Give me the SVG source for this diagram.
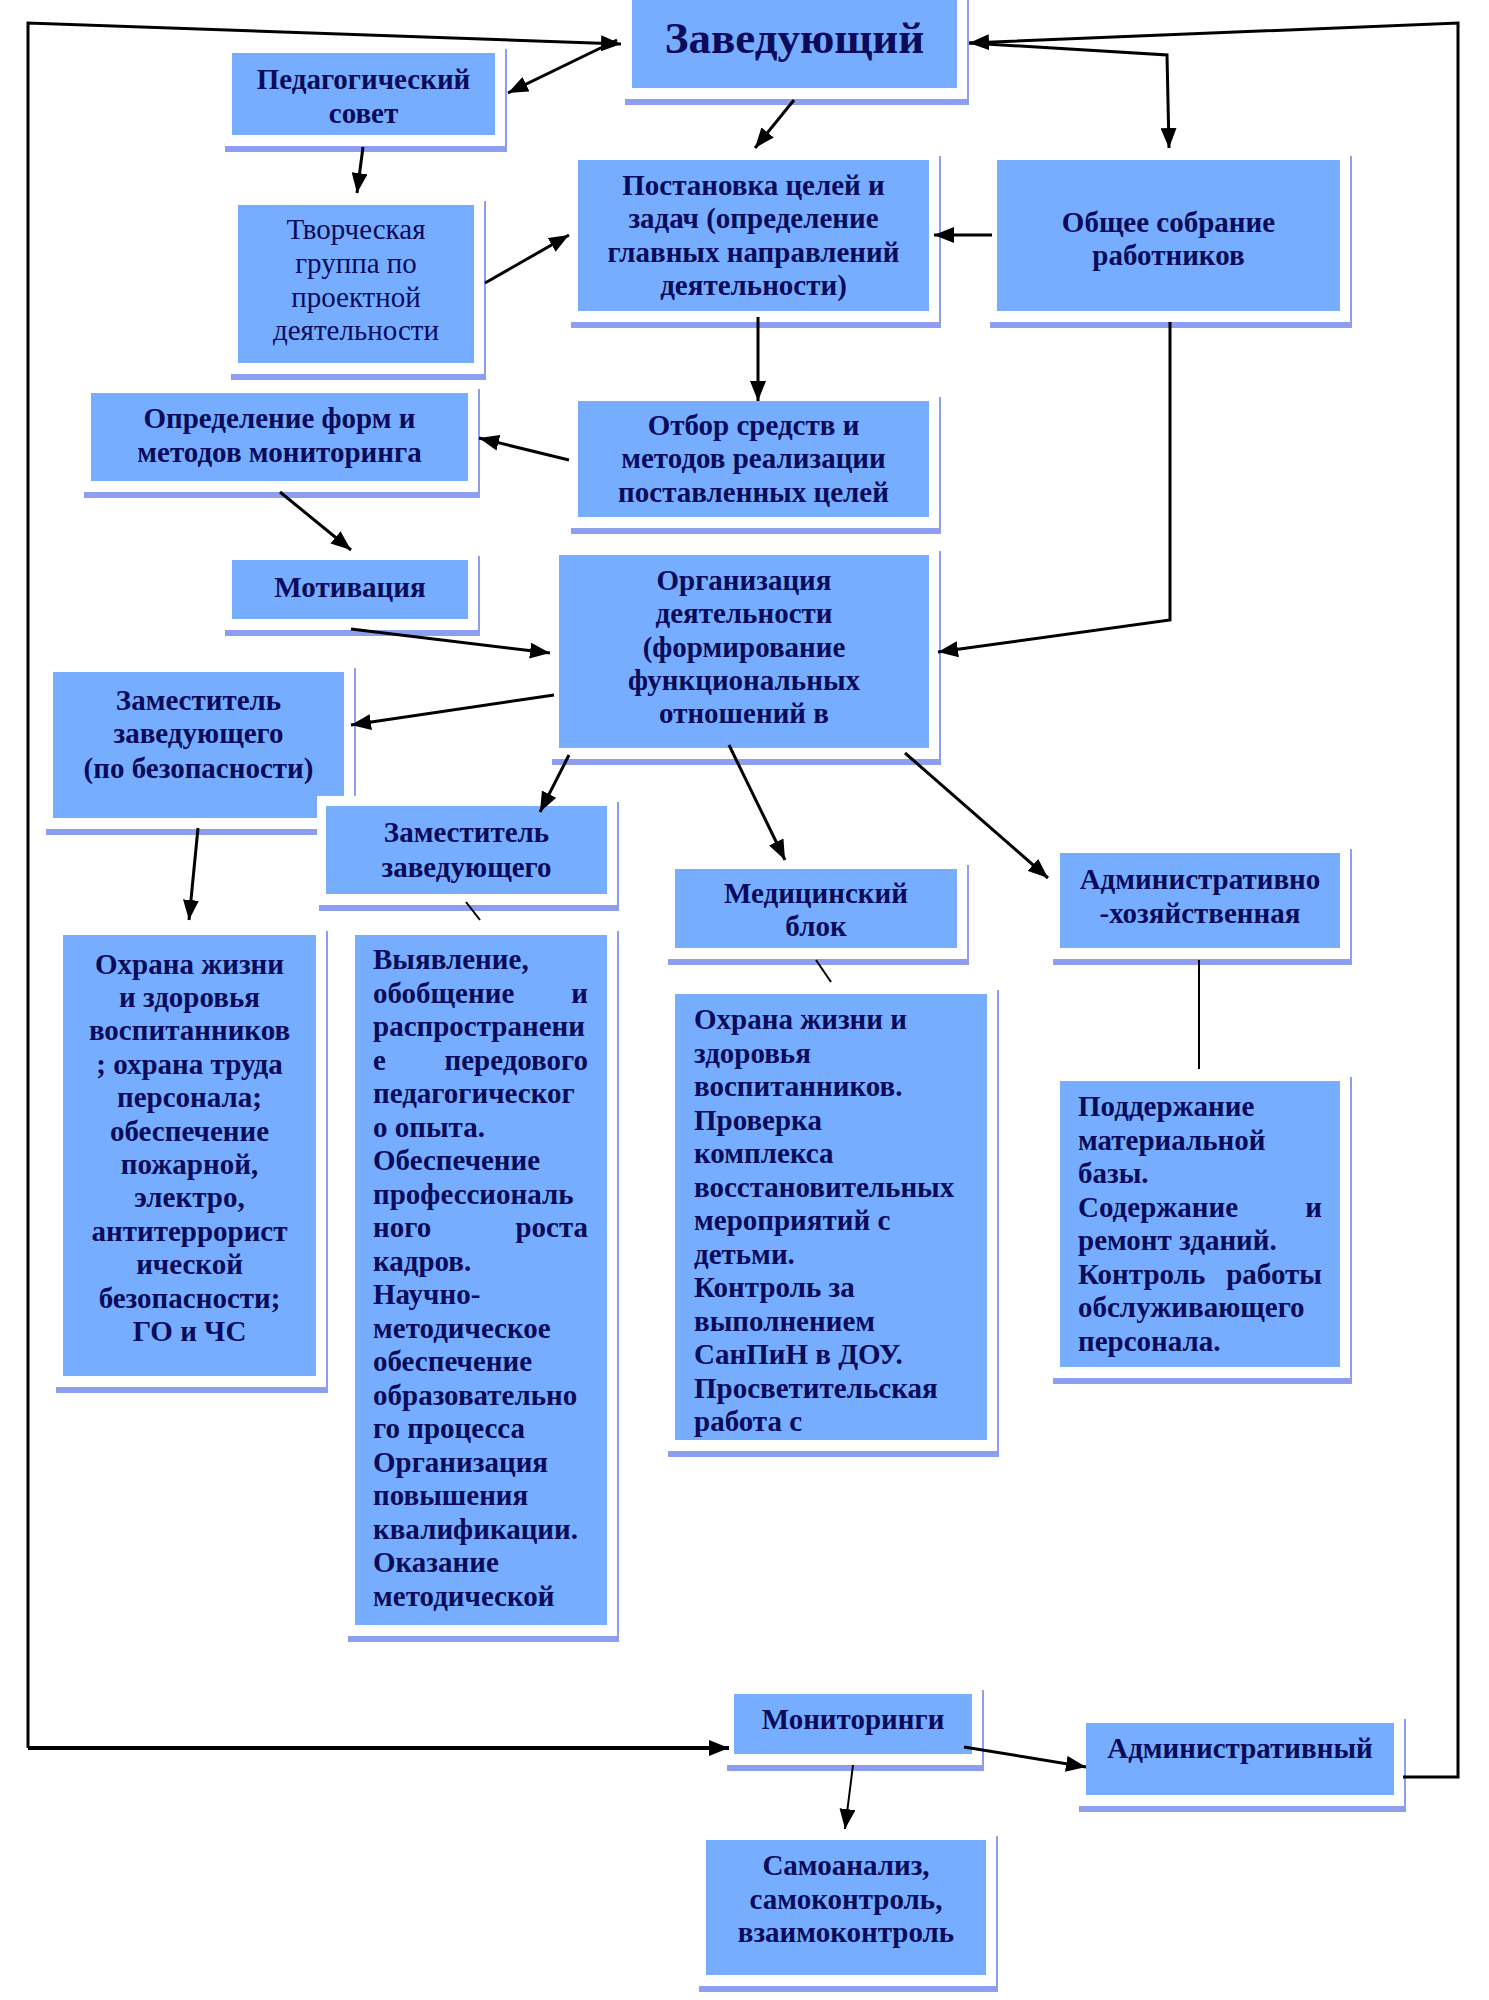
<svg xmlns="http://www.w3.org/2000/svg" width="1489" height="2000" viewBox="0 0 1489 2000">
<style>
.frame{fill:#ffffff}
.shadow{fill:#8d9df0}
.box{fill:#76adfe}
.t{font-family:"Liberation Serif","Times New Roman",serif;font-weight:bold;font-size:29px;fill:#0b0b5a}
.c{text-anchor:middle}
.e{text-anchor:end}
.r{font-weight:normal}
.big{font-size:45px}
.ln{stroke:#000;stroke-width:3;fill:none}
.thin{stroke-width:2}
.thick{stroke-width:4}
</style>
<defs>
<marker id="arr" markerWidth="20" markerHeight="16" refX="20" refY="8" orient="auto" markerUnits="userSpaceOnUse"><path d="M0,0 L20,8 L0,16 z" fill="#000"/></marker>
<clipPath id="clipMed"><rect x="675" y="994" width="312" height="446"/></clipPath>
<clipPath id="clipOrg"><rect x="559" y="555" width="370" height="193"/></clipPath>
</defs>
<rect x="0" y="0" width="1489" height="2000" fill="#ffffff"/>

<g id="zaveduyushchiy">
<rect class="shadow" x="625" y="-4" width="344" height="109"/>
<rect class="frame" x="623" y="-10" width="344" height="109"/>
<rect class="box" x="632" y="0" width="325" height="88"/>
<text class="t c big" x="794.5" y="53">Заведующий</text>
</g>

<g id="ped-sovet">
<rect class="shadow" x="225" y="49" width="282" height="103"/>
<rect class="frame" x="223" y="43" width="282" height="103"/>
<rect class="box" x="232" y="53" width="263" height="82"/>
<text class="t c" x="363.5" y="89">Педагогический</text>
<text class="t c" x="363.5" y="123">совет</text>
</g>

<g id="tvorcheskaya-gruppa">
<rect class="shadow" x="231" y="201" width="255" height="179"/>
<rect class="frame" x="229" y="195" width="255" height="179"/>
<rect class="box" x="238" y="205" width="236" height="158"/>
<text class="t c r" x="356" y="239">Творческая</text>
<text class="t c r" x="356" y="273">группа по</text>
<text class="t c r" x="356" y="307">проектной</text>
<text class="t c r" x="356" y="340">деятельности</text>
</g>

<g id="postanovka">
<rect class="shadow" x="571" y="156" width="370" height="172"/>
<rect class="frame" x="569" y="150" width="370" height="172"/>
<rect class="box" x="578" y="160" width="351" height="151"/>
<text class="t c" x="753.5" y="195">Постановка целей и</text>
<text class="t c" x="753.5" y="228">задач (определение</text>
<text class="t c" x="753.5" y="262">главных направлений</text>
<text class="t c" x="753.5" y="295">деятельности)</text>
</g>

<g id="obshchee-sobranie">
<rect class="shadow" x="990" y="156" width="362" height="172"/>
<rect class="frame" x="988" y="150" width="362" height="172"/>
<rect class="box" x="997" y="160" width="343" height="151"/>
<text class="t c" x="1168.5" y="232">Общее собрание</text>
<text class="t c" x="1168.5" y="265">работников</text>
</g>

<g id="opredelenie">
<rect class="shadow" x="84" y="389" width="396" height="109"/>
<rect class="frame" x="82" y="383" width="396" height="109"/>
<rect class="box" x="91" y="393" width="377" height="88"/>
<text class="t c" x="279.5" y="428">Определение форм и</text>
<text class="t c" x="279.5" y="462">методов мониторинга</text>
</g>

<g id="otbor">
<rect class="shadow" x="571" y="397" width="370" height="137"/>
<rect class="frame" x="569" y="391" width="370" height="137"/>
<rect class="box" x="578" y="401" width="351" height="116"/>
<text class="t c" x="753.5" y="435">Отбор средств и</text>
<text class="t c" x="753.5" y="468">методов реализации</text>
<text class="t c" x="753.5" y="502">поставленных целей</text>
</g>

<g id="motivaciya">
<rect class="shadow" x="225" y="556" width="255" height="80"/>
<rect class="frame" x="223" y="550" width="255" height="80"/>
<rect class="box" x="232" y="560" width="236" height="59"/>
<text class="t c" x="350" y="597">Мотивация</text>
</g>

<g id="organizaciya">
<rect class="shadow" x="552" y="551" width="389" height="214"/>
<rect class="frame" x="550" y="545" width="389" height="214"/>
<rect class="box" x="559" y="555" width="370" height="193"/>
<g clip-path="url(#clipOrg)">
<text class="t c" x="744" y="590">Организация</text>
<text class="t c" x="744" y="623">деятельности</text>
<text class="t c" x="744" y="657">(формирование</text>
<text class="t c" x="744" y="690">функциональных</text>
<text class="t c" x="744" y="723">отношений в</text>
</g>
</g>

<g id="zam-bezopasnost">
<rect class="shadow" x="46" y="668" width="310" height="167"/>
<rect class="frame" x="44" y="662" width="310" height="167"/>
<rect class="box" x="53" y="672" width="291" height="146"/>
<text class="t c" x="198.5" y="710">Заместитель</text>
<text class="t c" x="198.5" y="743">заведующего</text>
<text class="t c" x="198.5" y="778">(по безопасности)</text>
</g>

<g id="zam">
<rect class="shadow" x="319" y="802" width="300" height="109"/>
<rect class="frame" x="317" y="796" width="300" height="109"/>
<rect class="box" x="326" y="806" width="281" height="88"/>
<text class="t c" x="466.5" y="842">Заместитель</text>
<text class="t c" x="466.5" y="877">заведующего</text>
</g>

<g id="med-blok">
<rect class="shadow" x="668" y="865" width="301" height="100"/>
<rect class="frame" x="666" y="859" width="301" height="100"/>
<rect class="box" x="675" y="869" width="282" height="79"/>
<text class="t c" x="816" y="903">Медицинский</text>
<text class="t c" x="816" y="936">блок</text>
</g>

<g id="adm-hoz">
<rect class="shadow" x="1053" y="849" width="299" height="116"/>
<rect class="frame" x="1051" y="843" width="299" height="116"/>
<rect class="box" x="1060" y="853" width="280" height="95"/>
<text class="t c" x="1200" y="889">Административно</text>
<text class="t c" x="1200" y="923">-хозяйственная</text>
</g>

<g id="ohrana-bez">
<rect class="shadow" x="56" y="931" width="272" height="462"/>
<rect class="frame" x="54" y="925" width="272" height="462"/>
<rect class="box" x="63" y="935" width="253" height="441"/>
<text class="t c" x="189.5" y="973.5">Охрана жизни</text>
<text class="t c" x="189.5" y="1006.9">и здоровья</text>
<text class="t c" x="189.5" y="1040.3">воспитанников</text>
<text class="t c" x="189.5" y="1073.7">; охрана труда</text>
<text class="t c" x="189.5" y="1107.1">персонала;</text>
<text class="t c" x="189.5" y="1140.5">обеспечение</text>
<text class="t c" x="189.5" y="1173.9">пожарной,</text>
<text class="t c" x="189.5" y="1207.3">электро,</text>
<text class="t c" x="189.5" y="1240.7">антитеррорист</text>
<text class="t c" x="189.5" y="1274.1">ической</text>
<text class="t c" x="189.5" y="1307.5">безопасности;</text>
<text class="t c" x="189.5" y="1340.9">ГО и ЧС</text>
</g>

<g id="vyyavlenie">
<rect class="shadow" x="348" y="931" width="271" height="711"/>
<rect class="frame" x="346" y="925" width="271" height="711"/>
<rect class="box" x="355" y="935" width="252" height="690"/>
<text class="t" x="373" y="969">Выявление,</text>
<text class="t" x="373" y="1002.5">обобщение</text><text class="t e" x="588" y="1002.5">и</text>
<text class="t" x="373" y="1036">распространени</text>
<text class="t" x="373" y="1069.5">е</text><text class="t e" x="588" y="1069.5">передового</text>
<text class="t" x="373" y="1103">педагогическог</text>
<text class="t" x="373" y="1136.5">о опыта.</text>
<text class="t" x="373" y="1170">Обеспечение</text>
<text class="t" x="373" y="1203.5">профессиональ</text>
<text class="t" x="373" y="1237">ного</text><text class="t e" x="588" y="1237">роста</text>
<text class="t" x="373" y="1270.5">кадров.</text>
<text class="t" x="373" y="1304">Научно-</text>
<text class="t" x="373" y="1337.5">методическое</text>
<text class="t" x="373" y="1371">обеспечение</text>
<text class="t" x="373" y="1404.5">образовательно</text>
<text class="t" x="373" y="1438">го процесса</text>
<text class="t" x="373" y="1471.5">Организация</text>
<text class="t" x="373" y="1505">повышения</text>
<text class="t" x="373" y="1538.5">квалификации.</text>
<text class="t" x="373" y="1572">Оказание</text>
<text class="t" x="373" y="1605.5">методической</text>
</g>

<g id="med-tekst">
<rect class="shadow" x="668" y="990" width="331" height="467"/>
<rect class="frame" x="666" y="984" width="331" height="467"/>
<rect class="box" x="675" y="994" width="312" height="446"/>
<g clip-path="url(#clipMed)">
<text class="t" x="694" y="1029">Охрана жизни и</text>
<text class="t" x="694" y="1062.5">здоровья</text>
<text class="t" x="694" y="1096">воспитанников.</text>
<text class="t" x="694" y="1129.5">Проверка</text>
<text class="t" x="694" y="1163">комплекса</text>
<text class="t" x="694" y="1196.5">восстановительных</text>
<text class="t" x="694" y="1230">мероприятий с</text>
<text class="t" x="694" y="1263.5">детьми.</text>
<text class="t" x="694" y="1297">Контроль за</text>
<text class="t" x="694" y="1330.5">выполнением</text>
<text class="t" x="694" y="1364">СанПиН в ДОУ.</text>
<text class="t" x="694" y="1397.5">Просветительская</text>
<text class="t" x="694" y="1431">работа с</text>
</g>
</g>

<g id="podderzhanie">
<rect class="shadow" x="1053" y="1077" width="299" height="307"/>
<rect class="frame" x="1051" y="1071" width="299" height="307"/>
<rect class="box" x="1060" y="1081" width="280" height="286"/>
<text class="t" x="1078" y="1116">Поддержание</text>
<text class="t" x="1078" y="1149.5">материальной</text>
<text class="t" x="1078" y="1183">базы.</text>
<text class="t" x="1078" y="1216.5">Содержание</text><text class="t e" x="1322" y="1216.5">и</text>
<text class="t" x="1078" y="1250">ремонт зданий.</text>
<text class="t" x="1078" y="1283.5">Контроль</text><text class="t e" x="1322" y="1283.5">работы</text>
<text class="t" x="1078" y="1317">обслуживающего</text>
<text class="t" x="1078" y="1350.5">персонала.</text>
</g>

<g id="monitoringi">
<rect class="shadow" x="727" y="1690" width="257" height="81"/>
<rect class="frame" x="725" y="1684" width="257" height="81"/>
<rect class="box" x="734" y="1694" width="238" height="60"/>
<text class="t c" x="853" y="1729">Мониторинги</text>
</g>

<g id="administrativnyy">
<rect class="shadow" x="1079" y="1719" width="327" height="93"/>
<rect class="frame" x="1077" y="1713" width="327" height="93"/>
<rect class="box" x="1086" y="1723" width="308" height="72"/>
<text class="t c" x="1240" y="1758">Административный</text>
</g>

<g id="samoanaliz">
<rect class="shadow" x="699" y="1836" width="299" height="156"/>
<rect class="frame" x="697" y="1830" width="299" height="156"/>
<rect class="box" x="706" y="1840" width="280" height="135"/>
<text class="t c" x="846" y="1875">Самоанализ,</text>
<text class="t c" x="846" y="1909">самоконтроль,</text>
<text class="t c" x="846" y="1942">взаимоконтроль</text>
</g>

<g id="connectors">
<path class="ln" d="M28,1748 L28,23 L621,44" marker-end="url(#arr)"/>
<path class="ln thick" d="M28,1748 L729,1748" marker-end="url(#arr)"/>
<path class="ln" d="M1403,1777 L1458,1777 L1458,23 L969,43" marker-end="url(#arr)"/>
<path class="ln" d="M969,43 L1167,55 L1169,148" marker-end="url(#arr)"/>
<path class="ln" d="M617,40 L508,93" marker-end="url(#arr)"/>
<path class="ln" d="M794,100 L755,148" marker-end="url(#arr)"/>
<path class="ln" d="M363,147 L357,193" marker-end="url(#arr)"/>
<path class="ln" d="M485,283 L569,235" marker-end="url(#arr)"/>
<path class="ln" d="M992,235 L934,235" marker-end="url(#arr)"/>
<path class="ln" d="M758,317 L758,401" marker-end="url(#arr)"/>
<path class="ln" d="M1170,322 L1170,620 L938,652" marker-end="url(#arr)"/>
<path class="ln" d="M569,460 L479,438" marker-end="url(#arr)"/>
<path class="ln" d="M280,492 L351,550" marker-end="url(#arr)"/>
<path class="ln" d="M351,629 L550,653" marker-end="url(#arr)"/>
<path class="ln" d="M554,695 L351,725" marker-end="url(#arr)"/>
<path class="ln" d="M569,755 L540,812" marker-end="url(#arr)"/>
<path class="ln" d="M729,745 L785,860" marker-end="url(#arr)"/>
<path class="ln" d="M905,753 L1048,878" marker-end="url(#arr)"/>
<path class="ln" d="M198,828 L189,920" marker-end="url(#arr)"/>
<path class="ln thin" d="M466,902 L480,920"/>
<path class="ln thin" d="M816,960 L831,982"/>
<path class="ln thin" d="M1199,960 L1199,1069"/>
<path class="ln thin" d="M853,1765 L845,1829" marker-end="url(#arr)"/>
<path class="ln" d="M964,1747 L1086,1767" marker-end="url(#arr)"/>
</g>
</svg>
